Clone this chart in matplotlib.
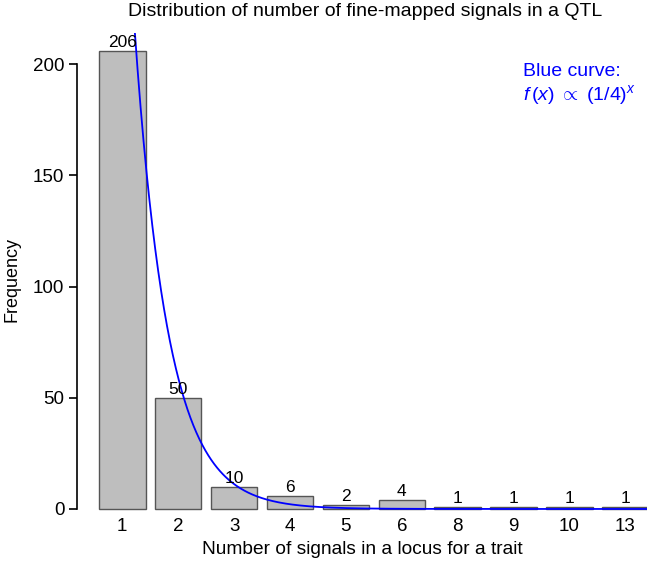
import numpy as np
import matplotlib.pyplot as plt

plt.rcParams['font.family'] = ['Liberation Sans', 'DejaVu Sans']
plt.rcParams['mathtext.fontset'] = 'custom'
plt.rcParams['mathtext.rm'] = 'Liberation Sans'
plt.rcParams['mathtext.it'] = 'Liberation Sans:italic'

# data
n_signals = ['1', '2', '3', '4', '5', '6', '8', '9', '10', '13']
counts = [206, 50, 10, 6, 2, 4, 1, 1, 1, 1]
curve_top = 206  # curve value at the first bar (f(x) ~ (1/4)^x)

fig = plt.figure(figsize=(6.47, 5.64), dpi=100)
W, H = 647, 564

# axes in pixel terms (R barplot layout)
ax_left, ax_right = 77, 647
ax_top, ax_bot = 32.6, 512.3
ax = fig.add_axes([ax_left / W, (H - ax_bot) / H, (ax_right - ax_left) / W, (ax_bot - ax_top) / H])

pos = 0.7 + 1.2 * np.arange(len(counts))
ax.bar(pos, counts, width=1.0, color='#bebebe', edgecolor='#555555', linewidth=1.0, zorder=1)

for x, c in zip(pos, counts):
    ax.annotate(str(c), (x, c), xytext=(0, 0.5), textcoords='offset points',
                ha='center', va='bottom', fontsize=12.5, zorder=3)

u = np.linspace(0, 12.6, 600)
ax.plot(u, curve_top * 0.25 ** (u - 1), color='#0000ff', linewidth=1.3, zorder=2)

ax.set_xlim(-0.27, -0.27 + (ax_right - ax_left) / 46.6)
ax.set_ylim(-1.5, 214.24)

ax.set_xticks(pos, n_signals)
ax.tick_params(axis='x', length=0, pad=4, labelsize=13.5)
ax.set_yticks([0, 50, 100, 150, 200])
ax.tick_params(axis='y', length=6, width=1.2, pad=3, labelsize=13.5)

for s in ['top', 'right', 'bottom']:
    ax.spines[s].set_visible(False)
ax.spines['left'].set_bounds(0, 200)
ax.spines['left'].set_linewidth(1.2)

fig.text(365 / W, 1 - 11 / H, 'Distribution of number of fine-mapped signals in a QTL',
         ha='center', va='center', fontsize=14)
fig.text(362 / W, 1 - 550 / H, 'Number of signals in a locus for a trait',
         ha='center', va='center', fontsize=13.8)
fig.text(12 / W, 1 - 280 / H, 'Frequency', rotation=90, ha='center', va='center', fontsize=13)

fig.text(523 / W, 1 - 72 / H, 'Blue curve:', color='#0000ff', ha='left', va='center', fontsize=14)
fig.text(523 / W, 1 - 95 / H, r'$f\,(x)\ \propto\ (1/4)^x$', color='#0000ff',
         ha='left', va='center', fontsize=14)

fig.savefig('out.png', dpi=100)
